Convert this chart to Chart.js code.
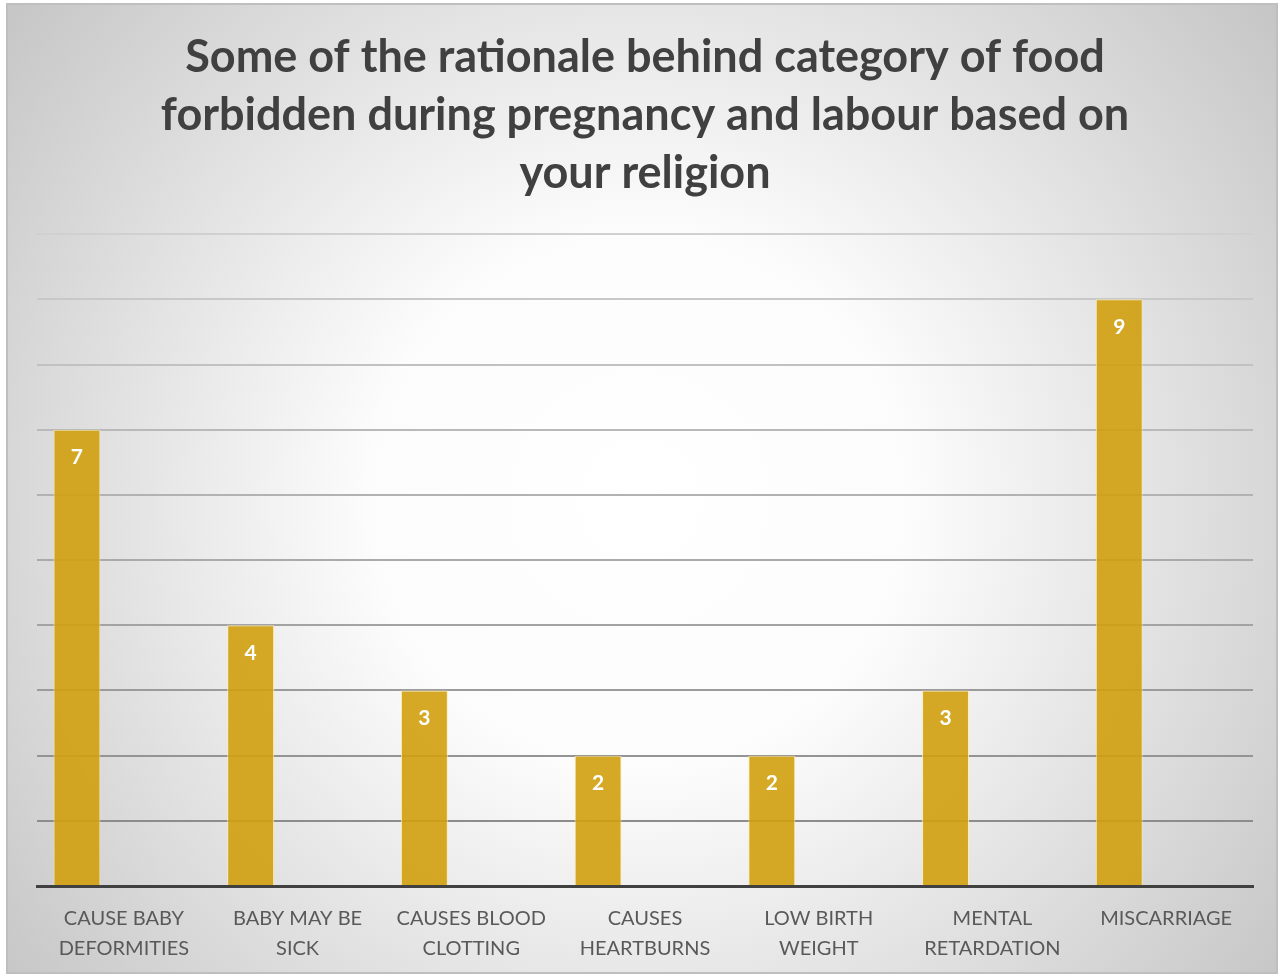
<!DOCTYPE html>
<html>
<head>
<meta charset="utf-8">
<style>
  html, body { margin: 0; padding: 0; background: #ffffff; }
  #wrap { width: 1282px; height: 975px; position: relative; }
</style>
<script src="https://cdn.jsdelivr.net/npm/chart.js@4/dist/chart.umd.min.js"></script>
</head>
<body>
<div id="wrap"><canvas id="chart" width="1282" height="975"></canvas></div>
<script>
// Categories (multi-line axis labels)
const categories = [
  ["CAUSE BABY", "DEFORMITIES"],
  ["BABY MAY BE", "SICK"],
  ["CAUSES BLOOD", "CLOTTING"],
  ["CAUSES", "HEARTBURNS"],
  ["LOW BIRTH", "WEIGHT"],
  ["MENTAL", "RETARDATION"],
  ["MISCARRIAGE"]
];
// Number of responses per rationale
const counts = [7, 4, 3, 2, 2, 3, 9];
// Empty companion series that keep each bar in the first slot of its group
const emptyA = [null, null, null, null, null, null, null];
const emptyB = [null, null, null, null, null, null, null];

const titleLines = [
  "Some of the rationale behind category of food",
  "forbidden during pregnancy and labour based on",
  "your religion"
];

const FONT = "Lato, 'Open Sans', 'DejaVu Sans', sans-serif";

// Card background: soft radial highlight with a thin grey frame
const backgroundPlugin = {
  id: "cardBackground",
  beforeDraw(chart) {
    const { ctx, width, height } = chart;
    ctx.save();
    const g = ctx.createRadialGradient(640, 500, 0, 640, 500, 820);
    g.addColorStop(0, "#ffffff");
    g.addColorStop(0.33, "#fcfcfc");
    g.addColorStop(0.75, "#d9d9d9");
    g.addColorStop(1, "#c4c4c4");
    ctx.fillStyle = "#ffffff";
    ctx.fillRect(0, 0, width, height);
    ctx.fillStyle = g;
    ctx.fillRect(7, 4, width - 12, height - 6);
    ctx.strokeStyle = "#bfbfbf";
    ctx.lineWidth = 2;
    ctx.strokeRect(7, 4, width - 12, height - 6);
    ctx.restore();
  }
};

// White value labels just inside the top of each bar
const valueLabelPlugin = {
  id: "valueLabels",
  afterDatasetsDraw(chart) {
    const { ctx } = chart;
    const meta = chart.getDatasetMeta(0);
    const data = chart.data.datasets[0].data;
    ctx.save();
    ctx.fillStyle = "#ffffff";
    ctx.font = "bold 21px " + FONT;
    ctx.textAlign = "center";
    ctx.textBaseline = "middle";
    meta.data.forEach((bar, i) => {
      ctx.fillText(String(data[i]), bar.x, bar.y + 28);
    });
    ctx.restore();
  }
};

new Chart(document.getElementById("chart"), {
  type: "bar",
  data: {
    labels: categories,
    datasets: [
      {
        label: "Responses",
        data: counts,
        backgroundColor: "rgba(208, 160, 14, 0.9)",
        borderColor: "rgba(255, 236, 170, 0.85)",
        borderWidth: { top: 1, left: 1, right: 1, bottom: 0 },
        borderSkipped: false,
        categoryPercentage: 0.81,
        barPercentage: 1.0
      },
      { label: "", data: emptyA, categoryPercentage: 0.81, barPercentage: 1.0 },
      { label: "", data: emptyB, categoryPercentage: 0.81, barPercentage: 1.0 }
    ]
  },
  options: {
    responsive: false,
    animation: false,
    devicePixelRatio: 1,
    layout: { padding: { left: 37, right: 29, top: 28, bottom: -7 } },
    plugins: {
      legend: { display: false },
      tooltip: { enabled: false },
      title: {
        display: true,
        text: titleLines,
        color: "#404040",
        font: { family: FONT, size: 45, weight: "bold", lineHeight: 1.29 },
        padding: { top: 0, bottom: 32 }
      }
    },
    scales: {
      x: {
        grid: { display: false, drawTicks: false },
        border: { display: true, color: "#404040", width: 3 },
        ticks: {
          color: "#595959",
          font: { family: FONT, size: 20, lineHeight: 1.5 },
          padding: 18,
          maxRotation: 0,
          autoSkip: false
        }
      },
      y: {
        min: 0,
        max: 10,
        ticks: { display: false, stepSize: 1 },
        border: { display: false },
        grid: {
          drawTicks: false,
          lineWidth: 2,
          color: (c) => {
            const v = c.tick ? c.tick.value : 0;
            if (v === 0) return "rgba(0,0,0,0)";
            const shade = Math.round(140 + (v - 1) * 7.5);
            return "rgb(" + shade + "," + shade + "," + shade + ")";
          }
        }
      }
    }
  },
  plugins: [backgroundPlugin, valueLabelPlugin]
});
</script>
</body>
</html>
